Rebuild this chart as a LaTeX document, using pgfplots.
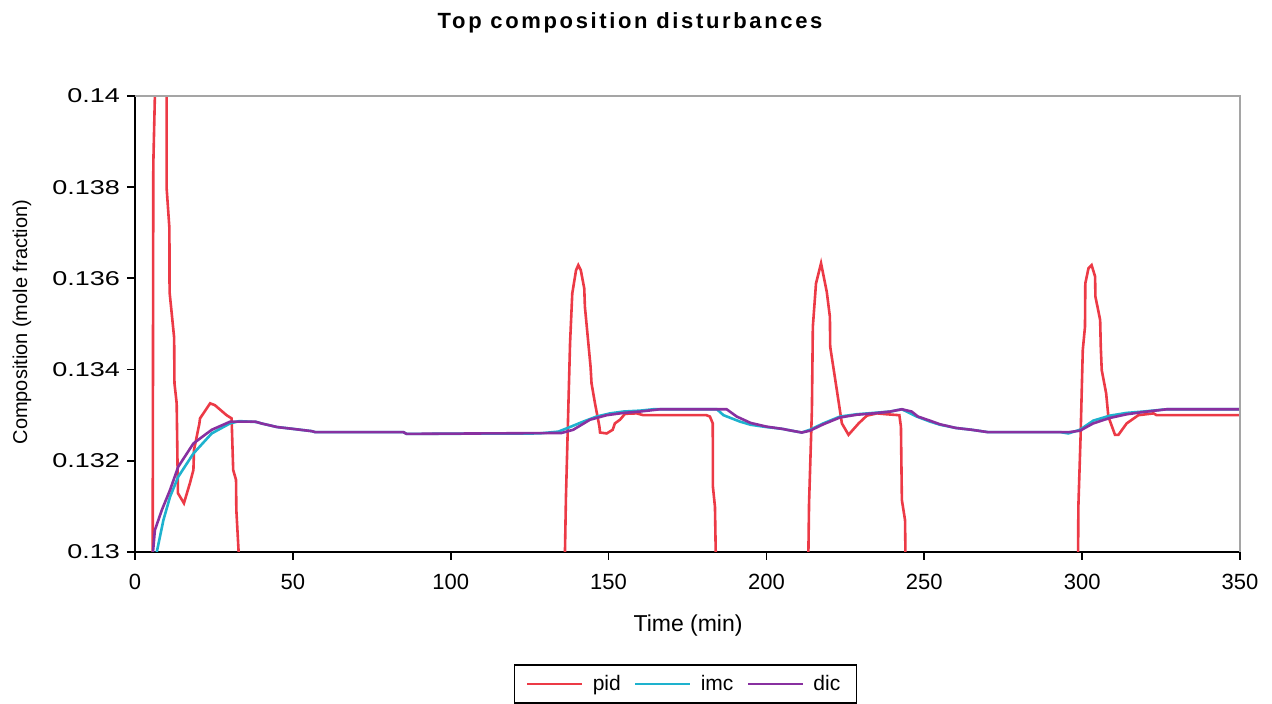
\documentclass[border=0pt]{standalone}
\usepackage{pgfplots}
\pgfplotsset{compat=1.18}
\usepackage{fontspec}
\setmainfont{Liberation Sans}
\definecolor{pidc}{RGB}{236,58,70}
\definecolor{imcc}{RGB}{30,178,206}
\definecolor{dicc}{RGB}{136,48,160}
\definecolor{framegray}{RGB}{165,165,165}
\newcommand{\sx}[1]{\scalebox{1.35}[1]{#1}}
\begin{document}
\begin{tikzpicture}
\begin{axis}[
  name=ax, at={(0,0)}, anchor=south west,
  scale only axis, width=552.5pt, height=228pt,
  xmin=0, xmax=350, ymin=0.13, ymax=0.14,
  axis x line*=bottom, axis y line*=left,
  axis line style={black, line width=1pt, -},
  xtick={0,50,...,350},
  ytick={0.13,0.132,0.134,0.136,0.138,0.14},
  yticklabels={\sx{0.13},\sx{0.132},\sx{0.134},\sx{0.136},\sx{0.138},\sx{0.14}},
  tick align=outside, major tick length=4pt,
  tick style={black, line width=0.9pt},
  /pgf/number format/assume math mode=true,
  xticklabel style={font=\fontsize{11}{13}\selectfont, yshift=-3.5pt},
  yticklabel style={font=\fontsize{10}{12}\selectfont},
  title={Top composition disturbances},
  title style={font=\fontsize{11}{13}\selectfont\bfseries\addfontfeatures{LetterSpace=12}, at={(axis description cs:0.448,1.1227)}, anchor=base},
  xlabel={Time (min)},
  xlabel style={font=\fontsize{11.5}{13}\selectfont, at={(axis description cs:0.5005,-0.1754)}, anchor=base},
  ylabel={Composition (mole fraction)},
  ylabel style={font=\fontsize{10}{12}\selectfont, at={(axis description cs:-0.1023,0.504)}, anchor=center},
  legend columns=3,
  legend style={at={(axis description cs:0.4982,-0.2895)}, anchor=center, draw=black, line width=0.7pt,
    font=\fontsize{10.5}{12}\selectfont, /tikz/every even column/.append style={column sep=5pt},
    inner xsep=6pt, inner ysep=3pt},
  legend image code/.code={\draw[#1, line width=0.7pt] (0pt,0pt) -- (27.5pt,0pt); \path (30pt,0pt);},
]
\addplot[pidc, line width=1.3pt] coordinates {
(0,0.1285) (5.4,0.1285) (5.6,0.1300) (5.8,0.1385) (6.3,0.1400) (6.5,0.1410)
(9.9,0.1410) (10.0,0.1401) (10.0,0.1380) (10.9,0.1371) (10.95,0.1357) (12.4,0.1347)
(12.5,0.1337) (13.2,0.13326) (13.6,0.13129) (15.5,0.13107) (17.4,0.13151) (18.5,0.1318)
(18.7,0.13224) (20.4,0.13282) (20.6,0.13293) (23.8,0.13326) (25.3,0.13322) (29.0,0.13300)
(30.6,0.13293) (31.1,0.1318) (32.0,0.13158) (32.1,0.13092) (34.0,0.1285)
(135.8,0.1285) (136.5,0.13121) (137.8,0.13458) (138.5,0.13567) (139.7,0.13618) (140.4,0.13629)
(141.2,0.13618) (142.3,0.13578) (142.5,0.13538) (144.3,0.13406) (144.6,0.1337) (145.7,0.13326)
(147.1,0.13275) (147.3,0.13262) (149.4,0.1326) (151.3,0.13268) (152,0.13282) (153.6,0.1329)
(155.2,0.13303) (158.9,0.13304) (161,0.133) (181,0.133) (182.1,0.13297) (183,0.13282)
(183.05,0.13143) (183.7,0.13099) (184.3,0.1285)
(213.0,0.1285) (213.5,0.13107) (214.4,0.13311) (214.7,0.13494) (215.7,0.13589) (217.3,0.13633)
(219.1,0.13571) (220.1,0.13516) (220.2,0.1345) (222.3,0.13355) (223.9,0.13282) (226,0.13257)
(229.2,0.13282) (231.8,0.13299) (235,0.13304) (238.1,0.13302) (242.1,0.133) (242.6,0.13275)
(242.9,0.13114) (243.9,0.1307) (244.3,0.1285)
(298.6,0.1285) (298.8,0.13099) (299.5,0.13253) (300.2,0.13443) (300.9,0.13494) (301.0,0.13589)
(302,0.13622) (303,0.13629) (304.1,0.13604) (304.2,0.1356) (305.7,0.13509) (305.9,0.1345)
(306.2,0.13399) (307.6,0.13348) (308.3,0.13297) (310.4,0.13257) (311.5,0.13257) (314.1,0.13282)
(317.8,0.133) (322.6,0.13304) (323.6,0.133) (350,0.133)
};
\addlegendentry{pid}
\addplot[imcc, line width=1.3pt] coordinates {
(0,0.1285) (5.5,0.1285) (6.9,0.1300) (9.0,0.1307) (11.1,0.13121) (13.7,0.13165) (18.5,0.13216)
(24.3,0.1326) (30.1,0.13282) (33,0.13287) (38.5,0.13285) (40,0.13282) (45,0.13274) (50,0.1327)
(56,0.13265) (57,0.13263) (85,0.13263) (86,0.13259) (128,0.1326) (134.1,0.13264) (136.7,0.13271)
(142,0.13286) (146.2,0.13297) (150.5,0.13304) (154.7,0.13308) (160,0.1331) (164.2,0.13313)
(184.3,0.13313) (186.4,0.133) (191.6,0.13286) (195,0.13279) (200,0.13274) (205,0.1327)
(208,0.13266) (211.2,0.13262) (213.8,0.13268) (218,0.13282) (223.3,0.13297) (228.6,0.13302)
(233.9,0.13305) (239.2,0.13308) (242.9,0.13313) (247.6,0.13297) (251.8,0.13286) (255,0.13279)
(260,0.13272) (265,0.13268) (270,0.13263) (293,0.13263) (295.6,0.1326) (299.3,0.13268)
(303.5,0.13288) (308.8,0.13299) (314.1,0.13305) (319.4,0.13308) (326.8,0.13313) (350,0.13313)
};
\addlegendentry{imc}
\addplot[dicc, line width=1.3pt] coordinates {
(0,0.1285) (5.0,0.1285) (5.7,0.1300) (6.3,0.13048) (8.5,0.13092) (11.1,0.13136) (13.7,0.13187)
(18.5,0.13238) (24.3,0.13268) (30.2,0.13286) (38,0.13286) (40,0.13282) (45,0.13274) (50,0.1327)
(56,0.13265) (57,0.13263) (85,0.13263) (86,0.13259) (135.1,0.13261) (138.8,0.13268) (144.1,0.1329)
(149.4,0.133) (154.7,0.13305) (160,0.13308) (166.3,0.13313) (187.4,0.13313) (190.6,0.13297)
(195,0.13283) (200,0.13275) (205,0.1327) (208,0.13266) (211.2,0.13262) (213.8,0.13266)
(218,0.1328) (223.3,0.13295) (228.6,0.13301) (233.9,0.13304) (239.2,0.13308) (242.9,0.13313)
(246,0.13308) (248,0.13297) (251.8,0.13288) (255,0.1328) (260,0.13272) (265,0.13268)
(270,0.13263) (296,0.13263) (299.3,0.13266) (303.5,0.13282) (308.8,0.13294) (314.1,0.13302)
(319.4,0.13307) (326.8,0.13313) (350,0.13313)
};
\addlegendentry{dic}
\end{axis}
\draw[framegray, line width=0.8pt] (ax.north west) -- (ax.north east) -- (ax.south east);
\pgfresetboundingbox
\path[use as bounding box] (-67.5pt,-76pt) rectangle (568.5pt,276pt);
\end{tikzpicture}
\end{document}
